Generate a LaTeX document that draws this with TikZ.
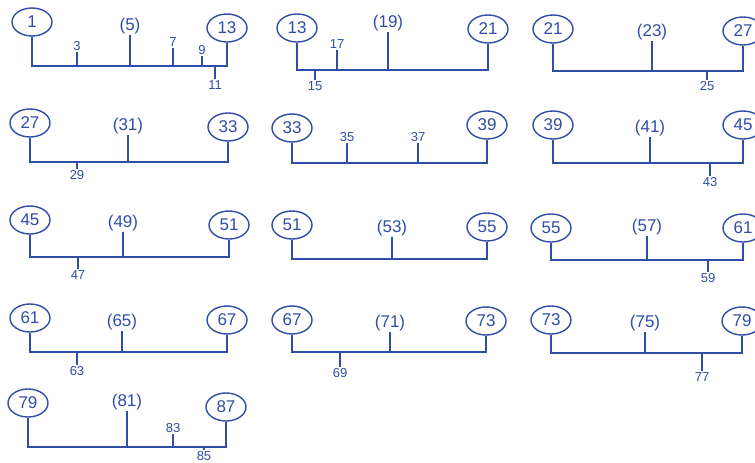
\documentclass[tikz,border=0pt]{standalone}
\usepackage{fontspec}
\setmainfont{Liberation Sans}
\usetikzlibrary{shapes.geometric}
\definecolor{inkblue}{RGB}{48,78,168}
\tikzset{
  wire/.style={draw=inkblue,line width=1.3pt},
  endpt/.style={ellipse,draw=inkblue,line width=1.4pt,text=inkblue,
    minimum width=40pt,minimum height=28pt,inner sep=0pt,
    font=\fontsize{17}{17}\selectfont},
  midlbl/.style={text=inkblue,inner sep=1pt,font=\fontsize{17}{17}\selectfont},
  small/.style={text=inkblue,inner sep=1pt,font=\fontsize{13}{13}\selectfont}
}
\begin{document}
\begin{tikzpicture}[x=1pt,y=-1pt]
\clip (0,0) rectangle (755,463);
\fill[white] (0,0) rectangle (755,463);

% row 1
\coordinate (abar) at (0,66);
\node[endpt] (a1) at (32,22) {1};
\node[small] (a3) at (77,46) {3};
\node[midlbl] (a5) at (130,26) {(5)};
\node[small] (a7) at (173,42) {7};
\node[small] (a9) at (202,50) {9};
\node[small] (a11) at (215,85) {11};
\node[endpt] (a13) at (227,28) {13};
\draw[wire] (a1) |- (abar -| a13) -- (a13);
\draw[wire] (a5) -- (a5 |- abar);
\draw[wire] (a3) -- (a3 |- abar);
\draw[wire] (a7) -- (a7 |- abar);
\draw[wire] (a9) -- (a9 |- abar);
\draw[wire] (a11) -- (a11 |- abar);

\coordinate (bbar) at (0,70);
\node[endpt] (b13) at (297,28) {13};
\node[small] (b15) at (315,86) {15};
\node[small] (b17) at (337,44) {17};
\node[midlbl] (b19) at (388,23) {(19)};
\node[endpt] (b21) at (488,29) {21};
\draw[wire] (b13) |- (bbar -| b21) -- (b21);
\draw[wire] (b19) -- (b19 |- bbar);
\draw[wire] (b17) -- (b17 |- bbar);
\draw[wire] (b15) -- (b15 |- bbar);

\coordinate (cbar) at (0,71);
\node[endpt] (c21) at (553,29) {21};
\node[midlbl] (c23) at (652,32) {(23)};
\node[small] (c25) at (707,86) {25};
\node[endpt] (c27) at (743,31) {27};
\draw[wire] (c21) |- (cbar -| c27) -- (c27);
\draw[wire] (c23) -- (c23 |- cbar);
\draw[wire] (c25) -- (c25 |- cbar);

% row 2
\coordinate (dbar) at (0,162);
\node[endpt] (d27) at (30,123) {27};
\node[small] (d29) at (77,175) {29};
\node[midlbl] (d31) at (128,126) {(31)};
\node[endpt] (d33) at (228,127) {33};
\draw[wire] (d27) |- (dbar -| d33) -- (d33);
\draw[wire] (d31) -- (d31 |- dbar);
\draw[wire] (d29) -- (d29 |- dbar);

\coordinate (ebar) at (0,163);
\node[endpt] (e33) at (292,128) {33};
\node[small] (e35) at (347,137) {35};
\node[small] (e37) at (418,137) {37};
\node[endpt] (e39) at (487,125) {39};
\draw[wire] (e33) |- (ebar -| e39) -- (e39);
\draw[wire] (e35) -- (e35 |- ebar);
\draw[wire] (e37) -- (e37 |- ebar);

\coordinate (fbar) at (0,163);
\node[endpt] (f39) at (553,125) {39};
\node[midlbl] (f41) at (650,128) {(41)};
\node[small] (f43) at (710,182) {43};
\node[endpt] (f45) at (743,125) {45};
\draw[wire] (f39) |- (fbar -| f45) -- (f45);
\draw[wire] (f41) -- (f41 |- fbar);
\draw[wire] (f43) -- (f43 |- fbar);

% row 3
\coordinate (gbar) at (0,257);
\node[endpt] (g45) at (30,220) {45};
\node[small] (g47) at (78,275) {47};
\node[midlbl] (g49) at (123,223) {(49)};
\node[endpt] (g51) at (229,225) {51};
\draw[wire] (g45) |- (gbar -| g51) -- (g51);
\draw[wire] (g49) -- (g49 |- gbar);
\draw[wire] (g47) -- (g47 |- gbar);

\coordinate (hbar) at (0,259);
\node[endpt] (h51) at (292,225) {51};
\node[midlbl] (h53) at (392,228) {(53)};
\node[endpt] (h55) at (487,227) {55};
\draw[wire] (h51) |- (hbar -| h55) -- (h55);
\draw[wire] (h53) -- (h53 |- hbar);

\coordinate (ibar) at (0,260);
\node[endpt] (i55) at (551,228) {55};
\node[midlbl] (i57) at (647,227) {(57)};
\node[small] (i59) at (708,278) {59};
\node[endpt] (i61) at (743,228) {61};
\draw[wire] (i55) |- (ibar -| i61) -- (i61);
\draw[wire] (i57) -- (i57 |- ibar);
\draw[wire] (i59) -- (i59 |- ibar);

% row 4
\coordinate (jbar) at (0,352);
\node[endpt] (j61) at (30,318) {61};
\node[small] (j63) at (77,371) {63};
\node[midlbl] (j65) at (122,322) {(65)};
\node[endpt] (j67) at (227,320) {67};
\draw[wire] (j61) |- (jbar -| j67) -- (j67);
\draw[wire] (j65) -- (j65 |- jbar);
\draw[wire] (j63) -- (j63 |- jbar);

\coordinate (kbar) at (0,352);
\node[endpt] (k67) at (292,320) {67};
\node[small] (k69) at (340,373) {69};
\node[midlbl] (k71) at (390,323) {(71)};
\node[endpt] (k73) at (486,321) {73};
\draw[wire] (k67) |- (kbar -| k73) -- (k73);
\draw[wire] (k71) -- (k71 |- kbar);
\draw[wire] (k69) -- (k69 |- kbar);

\coordinate (lbar) at (0,353);
\node[endpt] (l73) at (551,320) {73};
\node[midlbl] (l75) at (645,323) {(75)};
\node[small] (l77) at (702,377) {77};
\node[endpt] (l79) at (742,321) {79};
\draw[wire] (l73) |- (lbar -| l79) -- (l79);
\draw[wire] (l75) -- (l75 |- lbar);
\draw[wire] (l77) -- (l77 |- lbar);

% row 5
\coordinate (mbar) at (0,447);
\node[endpt] (m79) at (28,403) {79};
\node[midlbl] (m81) at (127,402) {(81)};
\node[small] (m83) at (173,428) {83};
\node[small] (m85) at (204,456) {85};
\node[endpt] (m87) at (226,407) {87};
\draw[wire] (m79) |- (mbar -| m87) -- (m87);
\draw[wire] (m81) -- (m81 |- mbar);
\draw[wire] (m83) -- (m83 |- mbar);
\draw[wire] (m85) -- (m85 |- mbar);
\end{tikzpicture}
\end{document}
